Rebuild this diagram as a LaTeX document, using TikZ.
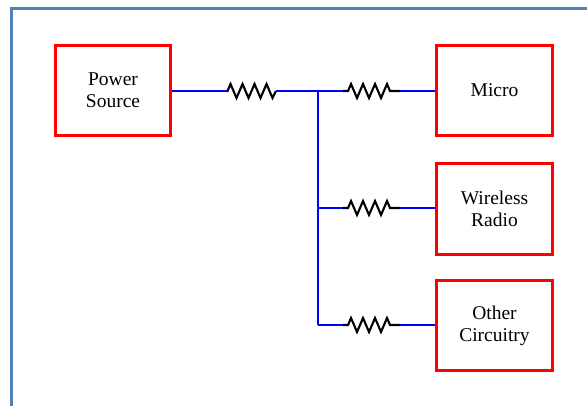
\documentclass[tikz,border=0pt]{standalone}
\usepackage{fontspec}
\setmainfont{Liberation Serif}
\usetikzlibrary{decorations.pathmorphing}
\definecolor{framecol}{RGB}{79,129,189}
\begin{document}
\begin{tikzpicture}[x=1pt,y=-1pt,
  box/.style={draw=red, line width=3pt, minimum width=115.5pt, minimum height=90.5pt,
    align=center, inner sep=0pt, font=\fontsize{19.5}{22}\selectfont},
  wire/.style={draw=blue, line width=2.7pt},
  res/.style={draw=black, line width=2.1pt, line join=miter,
    decorate, decoration={zigzag, segment length=12pt, amplitude=7pt, pre length=#1, post length=#1}},
  res/.default=0.5pt]
\useasboundingbox (0,0) rectangle (587,406);
\draw[framecol, line width=2.2pt] (11.5,406) -- (11.5,8.5) -- (587,8.5);
\node[box] (ps) at (113,90.5) {Power\\Source};
\node[box] (mi) at (494.5,90.5) {Micro};
\node[box] (wr) at (494.5,209) {Wireless\\Radio};
\node[box] (oc) at (494.5,325.5) {Other\\Circuitry};
\coordinate (r1a) at (227,91);
\coordinate (r1b) at (276,91);
\coordinate (j1) at (318,91);
\coordinate (r2a) at (343,91);
\coordinate (r2b) at (400,91);
\coordinate (j2) at (318,208);
\coordinate (r3a) at (343,208);
\coordinate (r3b) at (400,208);
\coordinate (j3) at (318,325);
\coordinate (r4a) at (343,325);
\coordinate (r4b) at (400,325);
\draw[wire] (ps.east |- r1a) -- (r1a);
\draw[wire] (r1b) -- (j1) -- (r2a);
\draw[wire] (r2b) -- (mi.west |- r2b);
\draw[wire] (j1) -- (j3);
\draw[wire] (j2) -- (r3a);
\draw[wire] (r3b) -- (wr.west |- r3b);
\draw[wire] (j3) -- (r4a);
\draw[wire] (r4b) -- (oc.west |- r4b);
\draw[res] (r1a) -- (r1b);
\draw[res=5pt] (r2a) -- (r2b);
\draw[res=5pt] (r3a) -- (r3b);
\draw[res=5pt] (r4a) -- (r4b);
\end{tikzpicture}
\end{document}
